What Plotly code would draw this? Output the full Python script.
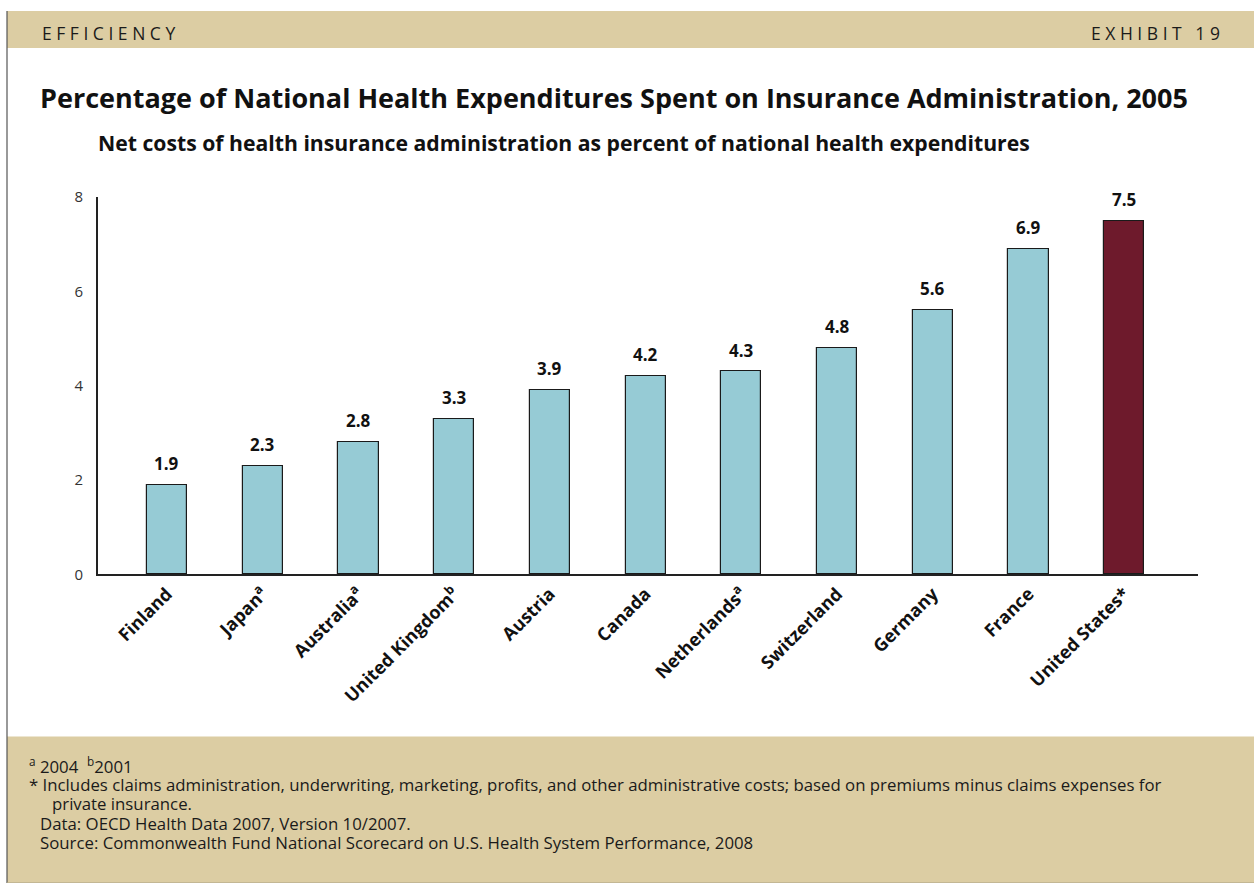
import plotly.graph_objects as go

W, H = 1254, 883
# The page shows the figure 10 px down and 0.977x vertically; lay out in window pixels
TOP_OFF = 10
Y_SCALE = 0.977
FIG_H = round((H - TOP_OFF) / Y_SCALE) + 1

countries = [
    "Finland", "Japan<sup>a</sup>", "Australia<sup>a</sup>", "United Kingdom<sup>b</sup>",
    "Austria", "Canada", "Netherlands<sup>a</sup>", "Switzerland", "Germany",
    "France", "United States*",
]
values = [1.9, 2.3, 2.8, 3.3, 3.9, 4.2, 4.3, 4.8, 5.6, 6.9, 7.5]
value_labels = ["1.9", "2.3", "2.8", "3.3", "3.9", "4.2", "4.3", "4.8", "5.6", "6.9", "7.5"]
y_ticks = [0, 2, 4, 6, 8]

TEAL = "#96CBD5"
MAROON = "#6E1A2C"
TAN = "#DCCDA3"
FONT = "Open Sans"

bar_colors = [MAROON if c.startswith("United States") else TEAL for c in countries]
xs = list(range(len(countries)))


def px(x):
    return x / W


def py(y):
    yf = max(y - TOP_OFF, 0) / Y_SCALE
    return 1 - yf / FIG_H


fig = go.Figure()
fig.add_trace(go.Bar(
    x=xs, y=values,
    width=0.42,
    marker=dict(color=bar_colors, line=dict(color="#1a1a1a", width=1.2)),
    hoverinfo="skip",
))

# value labels above each bar
for xi, v, lab in zip(xs, values, value_labels):
    fig.add_annotation(
        x=xi, y=v, xref="x", yref="y", text=f"<b>{lab}</b>", showarrow=False,
        yanchor="bottom", yshift=8,
        font=dict(family=FONT, size=17, color="#111111"),
    )

shapes = [
    # header band
    dict(type="rect", xref="paper", yref="paper", x0=px(7), x1=1, y0=py(47), y1=py(3),
         fillcolor=TAN, line=dict(width=0), layer="below"),
    # footer band
    dict(type="rect", xref="paper", yref="paper", x0=px(7), x1=1, y0=py(881), y1=py(735),
         fillcolor=TAN, line=dict(width=0), layer="below"),
    # frame lines
    dict(type="line", xref="paper", yref="paper", x0=px(7), x1=px(7), y0=py(2), y1=py(882),
         line=dict(color="#555555", width=1.2)),
    dict(type="line", xref="paper", yref="paper", x0=px(7), x1=1, y0=py(881.5), y1=py(881.5),
         line=dict(color="#B5A77F", width=1.5)),
]

NOTE = dict(family=FONT, size=16.8, color="#1a1a1a")
ann = [
    dict(text="E F F I C I E N C Y", x=px(40), y=py(32), xanchor="left", yanchor="middle",
         font=dict(family=FONT, size=17.5, color="#1a1a1a")),
    dict(text="E X H I B I T   1 9", x=px(1222), y=py(32), xanchor="right", yanchor="middle",
         font=dict(family=FONT, size=17.5, color="#1a1a1a")),
    dict(text="<b>Percentage of National Health Expenditures Spent on Insurance Administration, 2005</b>",
         x=px(38), y=py(96), xanchor="left", yanchor="middle",
         font=dict(family=FONT, size=27, color="#111111")),
    dict(text="<b>Net costs of health insurance administration as percent of national health expenditures</b>",
         x=px(96), y=py(141), xanchor="left", yanchor="middle",
         font=dict(family=FONT, size=21.2, color="#111111")),
    dict(text="<sup>a</sup> 2004  <sup>b</sup>2001", x=px(27), y=py(764), xanchor="left", yanchor="middle",
         font=NOTE),
    dict(text="* Includes claims administration, underwriting, marketing, profits, and other administrative costs; "
              "based on premiums minus claims expenses for",
         x=px(27), y=py(783), xanchor="left", yanchor="middle", font=NOTE),
    dict(text="private insurance.", x=px(50), y=py(802), xanchor="left", yanchor="middle", font=NOTE),
    dict(text="Data: OECD Health Data 2007, Version 10/2007.", x=px(38), y=py(822), xanchor="left",
         yanchor="middle", font=NOTE),
    dict(text="Source: Commonwealth Fund National Scorecard on U.S. Health System Performance, 2008",
         x=px(38), y=py(841), xanchor="left", yanchor="middle", font=NOTE),
]
for a in ann:
    fig.add_annotation(xref="paper", yref="paper", showarrow=False, **a)

fig.update_layout(
    width=W, height=FIG_H,
    margin=dict(l=0, r=0, t=0, b=0),
    paper_bgcolor="white", plot_bgcolor="white",
    showlegend=False,
    shapes=shapes,
    bargap=0,
    xaxis=dict(
        domain=[px(98), px(1198)],
        range=[-0.72, 10.77],
        tickmode="array", tickvals=xs, ticktext=[f"<b>{c}</b>" for c in countries],
        tickangle=-45,
        tickfont=dict(family=FONT, size=18, color="#111111"),
        showline=True, linecolor="#222222", linewidth=2,
        showgrid=False, zeroline=False, ticks="",
        fixedrange=True,
    ),
    yaxis=dict(
        domain=[py(573), py(196)],
        range=[0, 8],
        tickmode="array", tickvals=y_ticks,
        tickfont=dict(family=FONT, size=15, color="#333333"),
        showline=True, linecolor="#222222", linewidth=2,
        showgrid=False, zeroline=False, ticks="outside", ticklen=10, tickcolor="white",
        fixedrange=True,
    ),
)

fig.write_html("out.html")
